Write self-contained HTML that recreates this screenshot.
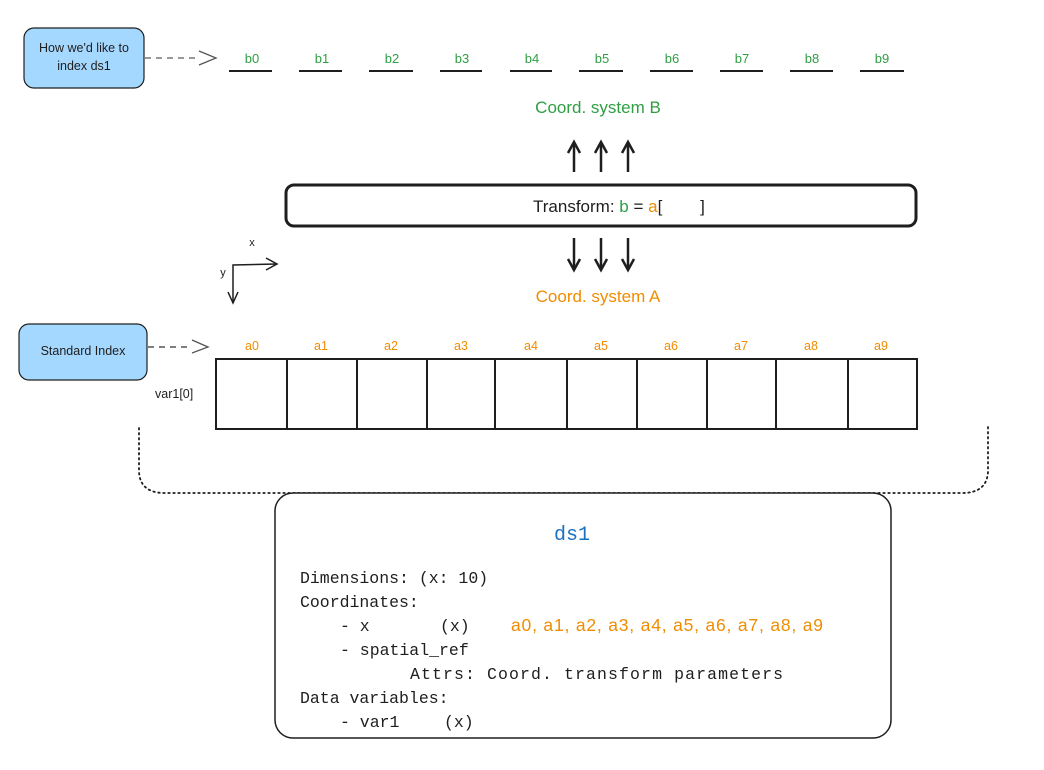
<!DOCTYPE html>
<html><head><meta charset="utf-8"><style>
html,body{margin:0;padding:0;background:#fff;width:1044px;height:770px;overflow:hidden}
svg{display:block}
.s{font-family:"Liberation Sans",sans-serif}
.m{font-family:"Liberation Mono",monospace;font-size:16.5px;fill:#1e1e1e}
</style></head><body>
<svg width="1044" height="770" viewBox="0 0 1044 770" xmlns="http://www.w3.org/2000/svg">
<!-- blue boxes -->
<rect x="24" y="28" width="120" height="60" rx="10" fill="#a5d8ff" stroke="#1e1e1e" stroke-width="1.2"/>
<text x="84" y="52" text-anchor="middle" class="s" font-size="12.5" fill="#1e1e1e">How we'd like to</text>
<text x="84" y="70" text-anchor="middle" class="s" font-size="12.5" fill="#1e1e1e">index ds1</text>
<line x1="145" y1="58" x2="195" y2="58" stroke="#777" stroke-width="1.5" stroke-dasharray="6,5"/>
<path d="M199,51 L216,58 L199,65" fill="none" stroke="#555" stroke-width="1.3"/>
<rect x="19" y="324" width="128" height="56" rx="10" fill="#a5d8ff" stroke="#1e1e1e" stroke-width="1.2"/>
<text x="83" y="355" text-anchor="middle" class="s" font-size="12.5" fill="#1e1e1e">Standard Index</text>
<line x1="148" y1="347" x2="192" y2="347" stroke="#555" stroke-width="1.5" stroke-dasharray="6,5"/>
<path d="M192,340 L208,347 L192,353" fill="none" stroke="#555" stroke-width="1.3"/>
<!-- b labels -->
<g class="s" font-size="13" fill="#2f9e44" text-anchor="middle">
<text x="252" y="63">b0</text><text x="322" y="63">b1</text><text x="392" y="63">b2</text><text x="462" y="63">b3</text><text x="532" y="63">b4</text><text x="602" y="63">b5</text><text x="672" y="63">b6</text><text x="742" y="63">b7</text><text x="812" y="63">b8</text><text x="882" y="63">b9</text>
</g>
<g stroke="#1e1e1e" stroke-width="2">
<line x1="229" y1="71" x2="272" y2="71"/><line x1="299" y1="71" x2="342" y2="71"/><line x1="369" y1="71" x2="413" y2="71"/><line x1="440" y1="71" x2="482" y2="71"/><line x1="510" y1="71" x2="552" y2="71"/><line x1="579" y1="71" x2="623" y2="71"/><line x1="650" y1="71" x2="693" y2="71"/><line x1="720" y1="71" x2="763" y2="71"/><line x1="790" y1="71" x2="833" y2="71"/><line x1="860" y1="71" x2="904" y2="71"/>
</g>
<text x="598" y="113" text-anchor="middle" class="s" font-size="17" fill="#2f9e44">Coord. system B</text>
<!-- arrows -->
<g stroke="#1e1e1e" stroke-width="2.5" fill="none">
<line x1="574" y1="172" x2="574" y2="144"/><path d="M568,153 L574,142 L580,153"/>
<line x1="601" y1="172" x2="601" y2="144"/><path d="M595,153 L601,142 L607,153"/>
<line x1="628" y1="172" x2="628" y2="144"/><path d="M622,153 L628,142 L634,153"/>
<line x1="574" y1="238" x2="574" y2="268"/><path d="M568,259 L574,270 L580,259"/>
<line x1="601" y1="238" x2="601" y2="268"/><path d="M595,259 L601,270 L607,259"/>
<line x1="628" y1="238" x2="628" y2="268"/><path d="M622,259 L628,270 L634,259"/>
</g>
<rect x="286" y="185" width="630" height="41" rx="8" fill="#fff" stroke="#1e1e1e" stroke-width="3"/>
<text x="533" y="212" class="s" font-size="17" fill="#1e1e1e" xml:space="preserve">Transform: <tspan fill="#2f9e44">b</tspan> = <tspan fill="#f08c00">a</tspan>[        ]</text>
<!-- axes -->
<g stroke="#1e1e1e" stroke-width="1.5" fill="none">
<path d="M277,264 L233,265 L233,303"/><path d="M266,258 L277,264 L266,270"/><path d="M228,292 L233,303 L238,292"/>
</g>
<text x="252" y="246" class="s" font-size="11" fill="#1e1e1e" text-anchor="middle">x</text>
<text x="223" y="276" class="s" font-size="11" fill="#1e1e1e" text-anchor="middle">y</text>
<text x="598" y="302" text-anchor="middle" class="s" font-size="17" fill="#f08c00">Coord. system A</text>
<!-- a labels -->
<g class="s" font-size="12.5" fill="#f08c00" text-anchor="middle">
<text x="252" y="350">a0</text><text x="321" y="350">a1</text><text x="391" y="350">a2</text><text x="461" y="350">a3</text><text x="531" y="350">a4</text><text x="601" y="350">a5</text><text x="671" y="350">a6</text><text x="741" y="350">a7</text><text x="811" y="350">a8</text><text x="881" y="350">a9</text>
</g>
<rect x="216" y="359" width="701" height="70" fill="none" stroke="#1e1e1e" stroke-width="2"/>
<g stroke="#1e1e1e" stroke-width="2">
<line x1="287" y1="359" x2="287" y2="429"/><line x1="357" y1="359" x2="357" y2="429"/><line x1="427" y1="359" x2="427" y2="429"/><line x1="495" y1="359" x2="495" y2="429"/><line x1="567" y1="359" x2="567" y2="429"/><line x1="637" y1="359" x2="637" y2="429"/><line x1="707" y1="359" x2="707" y2="429"/><line x1="776" y1="359" x2="776" y2="429"/><line x1="848" y1="359" x2="848" y2="429"/>
</g>
<text x="155" y="398" class="s" font-size="12.5" fill="#1e1e1e">var1[0]</text>
<!-- dotted brace -->
<path d="M139,428 L139,470 Q139,493 165,493 L962,493 Q988,493 988,470 L988,426" fill="none" stroke="#1e1e1e" stroke-width="1.8" stroke-dasharray="1.5,3.5" stroke-linecap="round"/>
<!-- ds1 box -->
<rect x="275" y="493" width="616" height="245" rx="18" fill="#fff" stroke="#1e1e1e" stroke-width="1.5"/>
<text x="572" y="540" text-anchor="middle" font-family="Liberation Mono,monospace" font-size="20" fill="#1971c2">ds1</text>
<text x="300" y="583" class="m">Dimensions: (x: 10)</text>
<text x="300" y="607" class="m">Coordinates:</text>
<text x="340" y="631" class="m">- x</text><text x="440" y="631" class="m">(x)</text>
<text x="511" y="631" class="s" font-size="17.5" fill="#f08c00" textLength="312" lengthAdjust="spacing">a0, a1, a2, a3, a4, a5, a6, a7, a8, a9</text>
<text x="340" y="655" class="m">- spatial_ref</text>
<text x="410" y="679" class="m" textLength="373" lengthAdjust="spacing">Attrs: Coord. transform parameters</text>
<text x="300" y="703" class="m">Data variables:</text>
<text x="340" y="727" class="m">- var1</text><text x="444" y="727" class="m">(x)</text>
</svg>
</body></html>
